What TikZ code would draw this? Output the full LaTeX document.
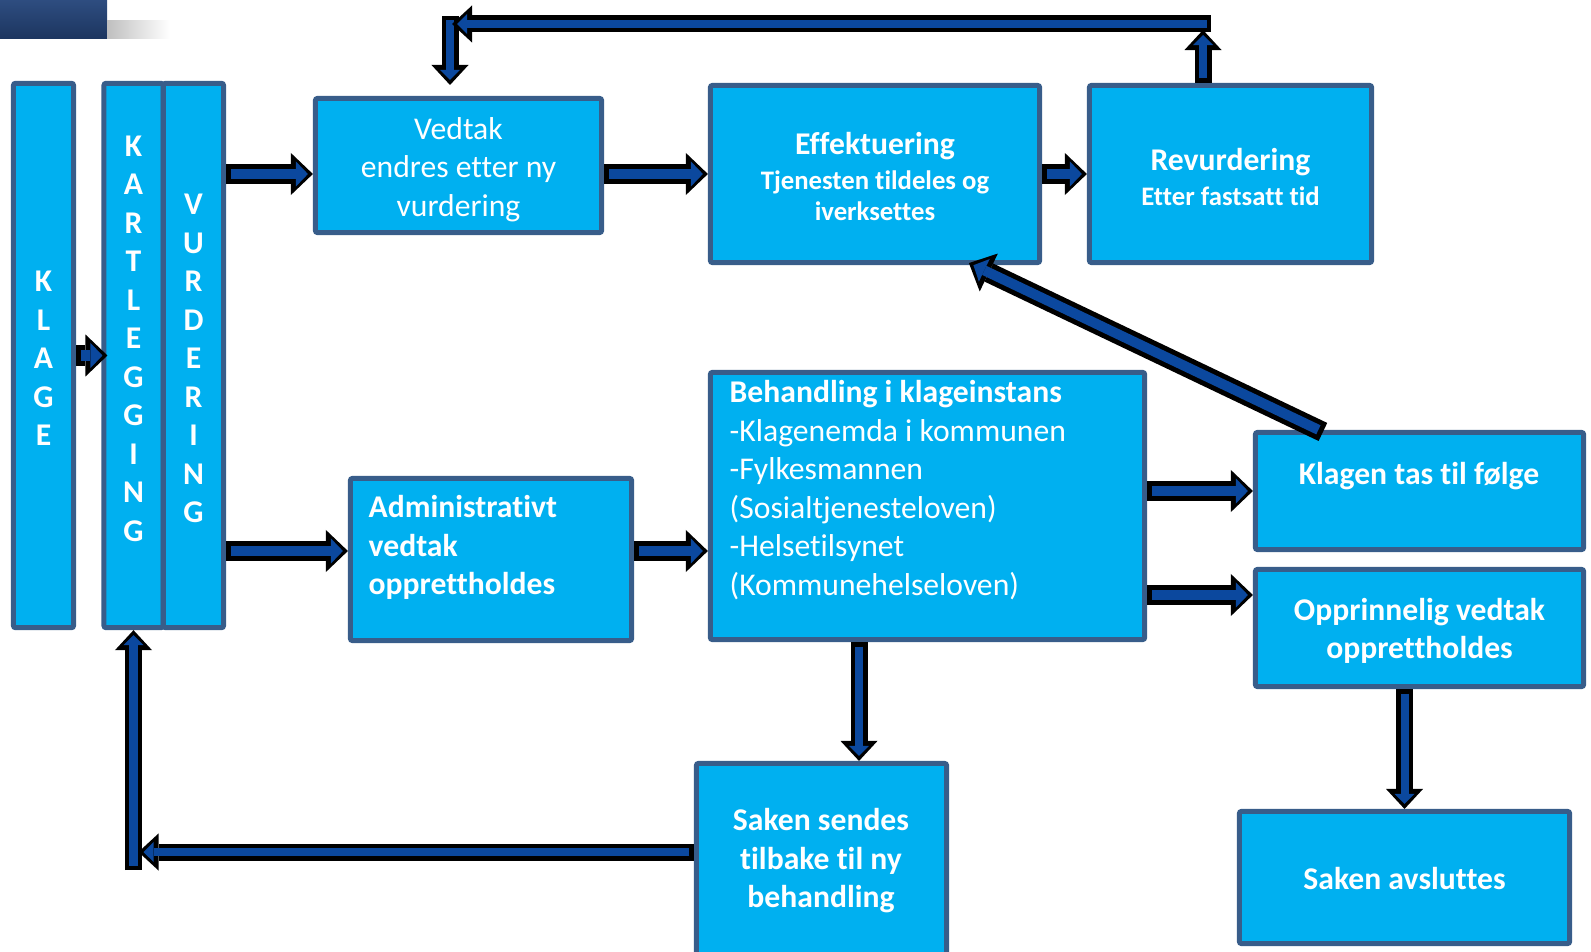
\documentclass[tikz,border=0pt]{standalone}
\usepackage{fontspec}
\setmainfont[Ligatures=NoCommon]{Carlito}
\usetikzlibrary{arrows.meta,calc}

\definecolor{boxfill}{HTML}{00B0F0}
\definecolor{boxline}{HTML}{385D8A}
\definecolor{arrowblue}{HTML}{0B489E}
\definecolor{bannertop}{HTML}{2E4D80}
\definecolor{bannerbot}{HTML}{1C355F}

\newcommand{\mainsize}{\fontsize{9}{10.95}\selectfont}
\newcommand{\subsize}{\fontsize{7.6}{8.8}\selectfont}

\tikzset{
  box/.style={draw=boxline, fill=boxfill, line width=0.05cm, rounded corners=0.02cm, inner sep=0pt},
  txt/.style={text=white, inner sep=0pt, align=center, font=\mainsize},
  bigarrow/.style={arrowblue, line width=0.1cm, shorten <=0.05cm, shorten >=0.05cm,
    -{Triangle[length=0.12cm,width=0.25cm,line width=0pt]},
    preaction={draw=black, line width=0.2cm, shorten <=0cm, shorten >=0cm,
      -{Triangle[length=0.22cm,width=0.42cm,line width=0pt]}}},
  slimarrow/.style={arrowblue, line width=0.08cm, shorten <=0.045cm, shorten >=0.05cm,
    -{Triangle[length=0.1cm,width=0.2cm,line width=0pt]},
    preaction={draw=black, line width=0.17cm, shorten <=0cm, shorten >=0cm,
      -{Triangle[length=0.2cm,width=0.37cm,line width=0pt]}}}
}

\begin{document}
\begin{tikzpicture}[x=0.01cm,y=-0.01cm]
\useasboundingbox (0,0) rectangle (1591,952);

% banner corner
\shade[top color=bannertop, bottom color=bannerbot] (0,0) rectangle (107,39);
\shade[left color=black!25, right color=white] (107,21) rectangle (170,39);

% boxes
\node[box, minimum width=0.60cm, minimum height=5.44cm] (klage) at (43.5,355.5) {};
\node[box, minimum width=0.59cm, minimum height=5.44cm] (kart) at (133.5,355.5) {};
\node[box, minimum width=0.60cm, minimum height=5.44cm] (vurd) at (193.5,355.5) {};
\node[box, minimum width=2.86cm, minimum height=1.34cm] (vedtak) at (458.5,165.5) {};
\node[box, minimum width=3.29cm, minimum height=1.77cm] (effekt) at (875,174) {};
\node[box, minimum width=2.82cm, minimum height=1.77cm] (revurd) at (1230.5,174) {};
\node[box, minimum width=2.81cm, minimum height=1.62cm] (admin) at (491,559.5) {};
\node[box, minimum width=4.34cm, minimum height=2.67cm] (behand) at (927.5,506) {};
\node[box, minimum width=3.28cm, minimum height=1.17cm] (klagen) at (1419.5,491) {};
\node[box, minimum width=3.28cm, minimum height=1.17cm] (oppr) at (1419.5,628) {};
\node[box, minimum width=2.50cm, minimum height=2.19cm] (sendes) at (821.5,873) {};
\node[box, minimum width=3.30cm, minimum height=1.32cm] (avsl) at (1404.5,877.5) {};

% texts
\node[txt, font=\mainsize\bfseries] at ($(klage)+(0,3)$) {K\\L\\A\\G\\E};
\node[txt, font=\mainsize\bfseries] at ($(kart)+(0,-17)$) {K\\A\\R\\T\\L\\E\\G\\G\\I\\N\\G};
\node[txt, font=\mainsize\bfseries] at ($(vurd)+(0,3)$) {V\\U\\R\\D\\E\\R\\I\\N\\G};
\node[txt] at ($(vedtak)+(0,4)$) {Vedtak\\endres etter ny\\vurdering};
\node[txt, font=\subsize\bfseries] at ($(effekt)+(0,2.5)$)
  {{\mainsize Effektuering}\\[1.4pt]Tjenesten tildeles og\\iverksettes};
\node[txt, font=\subsize\bfseries] at ($(revurd)+(0,3)$)
  {{\mainsize Revurdering}\\[1.2pt]Etter fastsatt tid};
\node[txt, font=\mainsize\bfseries, align=left, anchor=north west] at (368,495) {Administrativt\\vedtak\\opprettholdes};
\node[txt, align=left, anchor=north west] at (729,380)
  {\textbf{Behandling i klageinstans}\\-Klagenemda i kommunen\\-Fylkesmannen\\(Sosialtjenesteloven)\\-Helsetilsynet\\(Kommunehelseloven)};
\node[txt, font=\mainsize\bfseries] at (1419,476) {Klagen tas til følge};
\node[txt, font=\mainsize\bfseries] at ($(oppr)+(0,3)$) {Opprinnelig vedtak\\opprettholdes};
\node[txt, font=\mainsize\bfseries] at (821,861) {Saken sendes\\tilbake til ny\\behandling};
\node[txt, font=\mainsize\bfseries] at ($(avsl)+(0,1.5)$) {Saken avsluttes};

% helper points
\coordinate (lowrow) at (0,551);
\coordinate (opprow) at (0,595);
\coordinate (downcol) at (859,0);
\coordinate (upend) at (1203,30);
\coordinate (cornerR) at (1211,24);
\coordinate (cornerL) at (452,24);
\coordinate (dropstart) at (450,16);
\coordinate (dropend) at (450,85);
\coordinate (backcorner) at (133.5,870);
\coordinate (backrow) at (0,852);

% arrows
\draw[bigarrow] (klage.east) -- ($(kart.west)+(6,0)$);
\draw[bigarrow] (vurd.east |- effekt.west) -- (vedtak.west |- effekt.west);
\draw[bigarrow] (vedtak.east |- effekt.west) -- (effekt.west);
\draw[bigarrow] (effekt.east) -- (revurd.west);
\draw[bigarrow] (vurd.east |- lowrow) -- (admin.west |- lowrow);
\draw[bigarrow] (admin.east |- lowrow) -- (behand.west |- lowrow);
\draw[bigarrow] (behand.east |- klagen.west) -- (klagen.west);
\draw[bigarrow] (behand.east |- opprow) -- (oppr.west |- opprow);
\draw[bigarrow] ($(klagen.north west)+(70,2)$) -- ($(effekt.south west)+(261,-2)$);
\draw[slimarrow] (behand.south -| downcol) -- (sendes.north -| downcol);
\draw[slimarrow] (oppr.south -| avsl.north) -- (avsl.north);

% loop back to top
\draw[slimarrow] (dropstart) -- (dropend);
\draw[slimarrow] (revurd.north -| upend) -- (upend);
\draw[slimarrow] (cornerR) -- (cornerL);

% loop back to kartlegging
\draw[slimarrow] (backcorner) -- (kart.south);
\draw[slimarrow] (sendes.west |- backrow) -- ($(kart.south |- backrow)+(5,0)$);
\end{tikzpicture}
\end{document}
